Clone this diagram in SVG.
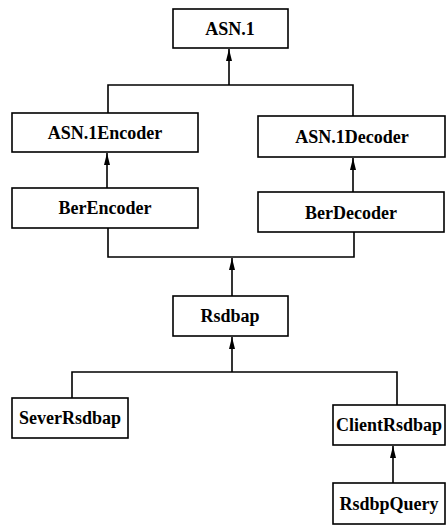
<svg xmlns="http://www.w3.org/2000/svg" width="446" height="526" viewBox="0 0 446 526">
<style>
.box{fill:#fff;stroke:#000;stroke-width:1.6}
.t{font-family:"Liberation Serif","Times New Roman",serif;font-size:18px;font-weight:bold;fill:#000;text-anchor:middle}
.c{fill:none;stroke:#000;stroke-width:1.6}
</style>
<defs>
<marker id="ah" viewBox="0 0 12 12" refX="12" refY="6" markerWidth="12" markerHeight="12" markerUnits="userSpaceOnUse" orient="auto">
<path d="M0,3 L12,6 L0,9 Z" fill="#000"/>
</marker>
</defs>
<rect width="446" height="526" fill="#fff"/>
<g id="connectors">
<path class="c" d="M229,85 V49" marker-end="url(#ah)"/>
<path class="c" d="M108,113 V85 H353 V116"/>
<path class="c" d="M107,188 V153" marker-end="url(#ah)"/>
<path class="c" d="M353,192 V158" marker-end="url(#ah)"/>
<path class="c" d="M108,228 V257 H354 V232"/>
<path class="c" d="M232,296 V258" marker-end="url(#ah)"/>
<path class="c" d="M232,372 V337" marker-end="url(#ah)"/>
<path class="c" d="M72,398 V372 H397 V405"/>
<path class="c" d="M393,483 V446" marker-end="url(#ah)"/>
</g>
<g id="asn1"><rect class="box" x="173" y="9" width="115" height="39"/><text class="t" x="230" y="35">ASN.1</text></g>
<g id="asn1encoder"><rect class="box" x="12" y="113" width="186" height="39"/><text class="t" x="105" y="139">ASN.1Encoder</text></g>
<g id="asn1decoder"><rect class="box" x="258" y="116" width="187" height="41"/><text class="t" x="352" y="143">ASN.1Decoder</text></g>
<g id="berencoder"><rect class="box" x="12" y="188" width="186" height="40"/><text class="t" x="105" y="214">BerEncoder</text></g>
<g id="berdecoder"><rect class="box" x="258" y="192" width="186" height="40"/><text class="t" x="351" y="219">BerDecoder</text></g>
<g id="rsdbap"><rect class="box" x="173" y="296" width="115" height="40"/><text class="t" x="230" y="322">Rsdbap</text></g>
<g id="severrsdbap"><rect class="box" x="12" y="398" width="116" height="40"/><text class="t" x="70" y="424">SeverRsdbap</text></g>
<g id="clientrsdbap"><rect class="box" x="333" y="405" width="112" height="40"/><text class="t" x="389" y="431">ClientRsdbap</text></g>
<g id="rsdbpquery"><rect class="box" x="333" y="483" width="112" height="41"/><text class="t" x="389" y="510">RsdbpQuery</text></g>
</svg>
